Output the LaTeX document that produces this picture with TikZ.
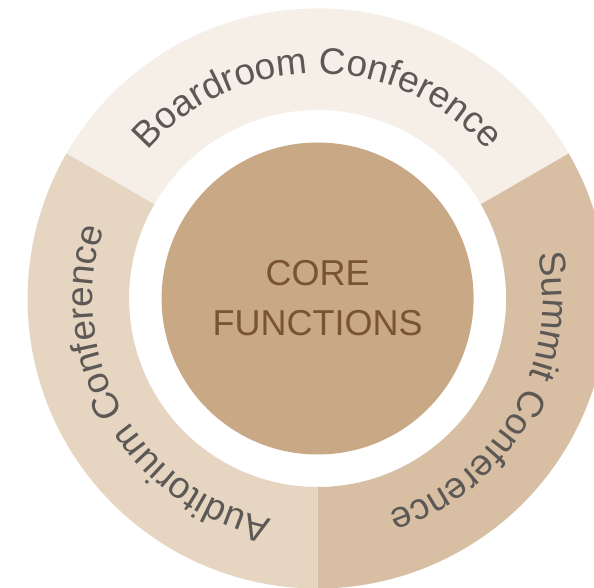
\documentclass[tikz,border=0pt]{standalone}
\usepackage{fontspec}
\setmainfont{Liberation Sans}
\usepackage{xcolor}
\usepackage{tikz}
\usetikzlibrary{decorations.text}
\definecolor{boardbg}{HTML}{F5EFE8}
\definecolor{auditbg}{HTML}{E5D5C1}
\definecolor{summitbg}{HTML}{D8BFA3}
\definecolor{corebg}{HTML}{C9A886}
\definecolor{corefg}{HTML}{7A5331}
\definecolor{ringfg}{HTML}{5C5855}

\begin{document}
\begin{tikzpicture}[x=1pt, y=1pt,
    core/.style = {circle, fill=corebg, text=corefg, minimum size=312pt, inner sep=0pt, align=center, font=\fontsize{36}{50}\selectfont},
    ringtext/.style = {decorate, decoration={text along path, text align=center, text color=ringfg, text={|\fontsize{37}{37}\selectfont|#1}}}]

\useasboundingbox (-317.6,-289.5) rectangle (276.4,298.5);
\fill[white] (-317.6,-289.5) rectangle (276.4,298.5);
\clip (-317.6,-289.5) rectangle (276.4,298.5);

% ring segments
\fill[boardbg] (30:188.5pt) arc[start angle=30, end angle=150, radius=188.5pt] -- (150:290pt) arc[start angle=150, end angle=30, radius=290pt] -- cycle;
\fill[summitbg] (-90:188.5pt) arc[start angle=-90, end angle=30, radius=188.5pt] -- (30:290pt) arc[start angle=30, end angle=-90, radius=290pt] -- cycle;
\fill[auditbg] (150:188.5pt) arc[start angle=150, end angle=270, radius=188.5pt] -- (270:290pt) arc[start angle=270, end angle=150, radius=290pt] -- cycle;

\node[core] (corefn) at (0,0) {CORE\\FUNCTIONS};

% labels along the ring
\path[ringtext=Boardroom Conference] (150:225pt) arc[start angle=150, end angle=30, radius=225pt];
\path[ringtext=Summit Conference] (30:225pt) arc[start angle=30, end angle=-90, radius=225pt];
\path[ringtext=Auditorium Conference] (270:225pt) arc[start angle=270, end angle=150, radius=225pt];

\end{tikzpicture}
\end{document}
